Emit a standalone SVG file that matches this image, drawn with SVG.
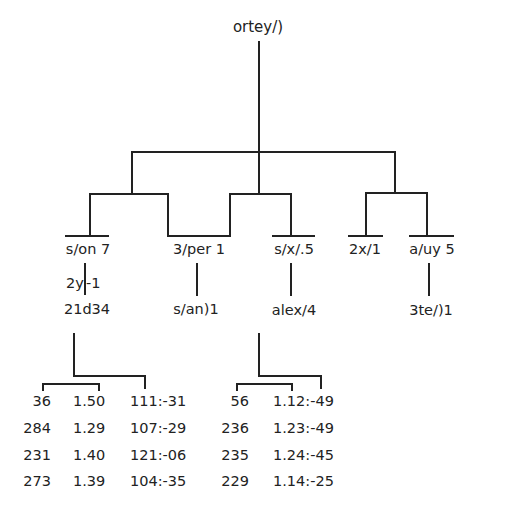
<svg xmlns="http://www.w3.org/2000/svg" width="512" height="512" viewBox="0 0 512 512">
<style>
text{font-family:"DejaVu Sans","Noto Sans",sans-serif;fill:#222;font-size:14.5px}
.m{text-anchor:middle}
.e{text-anchor:end}
.c{fill:none;stroke:#222;stroke-width:2;stroke-linecap:square}
</style>
<rect width="512" height="512" fill="#fff"/>
<g id="connectors" class="c">
<path d="M259 42V193"/>
<path d="M132 193V152H395V193"/>
<path d="M90 236V194H168V236H230V194H291V236"/>
<path d="M66 236H108M273 236H314"/>
<path d="M366 236V193H427V236"/>
<path d="M349 236H382M410 236H453"/>
<path d="M85 264V294M197 264V295M291 264V295M429 264V295"/>
<path d="M74 334V376H145V388"/>
<path d="M43 390V384H99V390"/>
<path d="M259 334V376H321V388"/>
<path d="M237 390V384H292V390"/>
</g>
<g id="root"><text class="m" x="258" y="32" style="font-size:15px">ortey/)</text></g>
<g id="n1"><text class="m" x="88" y="254">s/on 7</text></g>
<g id="n2"><text class="m" x="199" y="254">3/per 1</text></g>
<g id="n3"><text class="m" x="294" y="254">s/x/.5</text></g>
<g id="n4"><text class="m" x="365" y="254">2x/1</text></g>
<g id="n5"><text class="m" x="432" y="254">a/uy 5</text></g>
<g id="n6"><text x="66" y="288">2y</text><text x="86" y="288">-1</text></g>
<g id="n7"><text class="m" x="87" y="314">21d34</text></g>
<g id="n8"><text class="m" x="196" y="314">s/an)1</text></g>
<g id="n9"><text class="m" x="294" y="315">alex/4</text></g>
<g id="n10"><text class="m" x="431" y="315">3te/)1</text></g>
<g id="table-left">
<text class="e" x="51" y="406">36</text><text x="73" y="406">1.50</text><text x="130" y="406">111:-31</text>
<text class="e" x="51" y="433">284</text><text x="73" y="433">1.29</text><text x="130" y="433">107:-29</text>
<text class="e" x="51" y="460">231</text><text x="73" y="460">1.40</text><text x="130" y="460">121:-06</text>
<text class="e" x="51" y="486">273</text><text x="73" y="486">1.39</text><text x="130" y="486">104:-35</text>
</g>
<g id="table-right">
<text class="e" x="249" y="406">56</text><text x="273" y="406">1.12:-49</text>
<text class="e" x="249" y="433">236</text><text x="273" y="433">1.23:-49</text>
<text class="e" x="249" y="460">235</text><text x="273" y="460">1.24:-45</text>
<text class="e" x="249" y="486">229</text><text x="273" y="486">1.14:-25</text>
</g>
</svg>
